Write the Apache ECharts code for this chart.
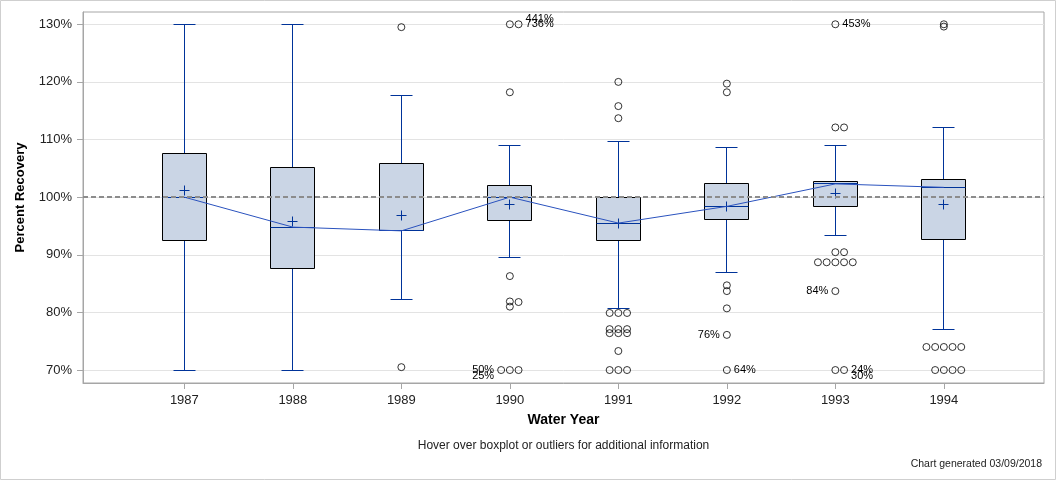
<!DOCTYPE html>
<html>
<head>
<meta charset="utf-8">
<script src="https://cdn.jsdelivr.net/npm/echarts@6/dist/echarts.min.js"></script>
<style>
html,body{margin:0;padding:0;background:#fff;}
#chart{width:1056px;height:480px;}
</style>
</head>
<body>
<div id="chart"></div>
<script>
// ---- data ----
const years       = [1987, 1988, 1989, 1990, 1991, 1992, 1993, 1994];
const whiskerLow  = [70.0, 70.0, 82.3, 89.6, 80.7, 87.0, 93.4, 77.0];
const q1          = [92.4, 87.55, 94.15, 95.9, 92.4, 96.2, 98.4, 92.6];
const median      = [100.0, 94.8, 94.15, 100.0, 95.5, 98.4, 102.3, 101.7];
const q3          = [107.6, 105.2, 105.9, 102.1, 100.0, 102.4, 102.7, 103.1];
const whiskerHigh = [130.0, 130.0, 117.7, 109.0, 109.7, 108.7, 109.0, 112.1];
const mean        = [101.1, 95.7, 96.8, 98.8, 95.4, 98.4, 100.7, 98.8];
const outliers = [
  [],
  [],
  [129.5, 70.5],
  [130, 130, 118.2, 86.3, 81.9, 81.8, 81.0, 70, 70, 70],
  [120.0, 115.8, 113.7, 79.9, 79.9, 79.9, 77.1, 77.1, 77.1, 76.4, 76.4, 76.4, 73.3, 70, 70, 70],
  [119.7, 118.2, 84.7, 83.7, 80.7, 76.1, 70],
  [130, 112.1, 112.1, 90.45, 90.45, 88.7, 88.7, 88.7, 88.7, 88.7, 83.7, 70, 70],
  [130.0, 129.6, 74, 74, 74, 74, 74, 70, 70, 70, 70]
];
const labelYears  = [1990, 1990, 1990, 1990, 1992, 1992, 1993, 1993, 1993, 1993];
const labelValues = [131.0, 130.0, 70.0, 68.95, 76.1, 70.0, 130.0, 83.7, 70.0, 68.95];
const labelTexts  = ['441%', '736%', '50%', '25%', '76%', '64%', '453%', '84%', '24%', '30%'];
const labelSides  = ['right', 'right', 'left', 'left', 'left', 'right', 'right', 'left', 'right', 'right'];
const yTicks = [70, 80, 90, 100, 110, 120, 130];
const refValue = 100;

// ---- layout constants ----
const FONT = "'Liberation Sans', Arial, sans-serif";
const BOX_W = 0.405, CAP_W = 0.203, SLOT = 0.0802;
const BLUE = '#003399';

function jitter(vals) {
  const groups = [];
  return vals.map(v => {
    let g = groups.find(g => Math.abs(g.v - v) <= 0.25);
    if (!g) { g = {v: v, n: 0}; groups.push(g); }
    const n = g.n++;
    return n === 0 ? 0 : (n % 2 === 1 ? (n + 1) / 2 : -n / 2);
  });
}
const outlierPts = [];
const outlierOffs = years.map(() => []);
years.forEach((y, i) => {
  const offs = jitter(outliers[i]);
  outliers[i].forEach((v, k) => {
    outlierPts.push([y + offs[k] * SLOT, v]);
    outlierOffs[i].push([v, offs[k]]);
  });
});

const boxData = years.map((y, i) => [y, whiskerLow[i], q1[i], median[i], q3[i], whiskerHigh[i], mean[i]]);
const labelData = labelYears.map((y, i) => [y, labelValues[i], i]);

const chart = echarts.init(document.getElementById('chart'), null, {renderer: 'canvas'});
const crisp = v => Math.round(v - 0.5) + 0.5;
const ln = (x1, y1, x2, y2, c) => ({type: 'line', shape: {x1, y1, x2, y2}, style: {stroke: c, lineWidth: 1}});

chart.setOption({
  animation: false,
  textStyle: {fontFamily: FONT},
  grid: {left: 83, top: 12, right: 12, bottom: 97, show: true, borderColor: '#a6a6a6', borderWidth: 1, backgroundColor: 'transparent'},
  xAxis: {
    type: 'value', min: 1986.066, max: 1994.923,
    axisLine: {show: true, lineStyle: {color: '#a6a6a6'}},
    axisTick: {show: true, length: 6, customValues: years, lineStyle: {color: '#a6a6a6'}},
    axisLabel: {customValues: years, formatter: v => String(v), color: '#222', fontSize: 13, margin: 11, fontFamily: FONT},
    splitLine: {show: false},
    name: 'Water Year', nameLocation: 'middle', nameGap: 30,
    nameTextStyle: {fontWeight: 'bold', fontSize: 14, color: '#000', fontFamily: FONT}
  },
  yAxis: {
    type: 'value', min: 67.75, max: 132.13,
    axisLine: {show: true, lineStyle: {color: '#a6a6a6'}},
    axisTick: {show: true, length: 6, customValues: yTicks, lineStyle: {color: '#a6a6a6'}},
    axisLabel: {customValues: yTicks, formatter: v => v + '%', color: '#222', fontSize: 13, margin: 11, fontFamily: FONT},
    splitLine: {show: true, lineStyle: {color: '#e3e3e3', width: 1}},
    name: 'Percent Recovery', nameLocation: 'middle', nameGap: 56, nameRotate: 90,
    nameTextStyle: {fontWeight: 'bold', fontSize: 13, color: '#000', fontFamily: FONT}
  },
  series: [
    {
      type: 'line', data: [], z: 1, silent: true,
      markLine: {
        silent: true, symbol: ['none', 'none'], label: {show: false},
        lineStyle: {color: '#8c8c8c', width: 2, type: [5, 3]},
        data: [{yAxis: refValue}]
      }
    },
    {
      type: 'custom', z: 2, data: boxData, silent: true,
      encode: {x: 0, y: [1, 2, 3, 4, 5]},
      renderItem: function (params, api) {
        const x = api.value(0);
        const cy = v => crisp(api.coord([x, v])[1]);
        const lo = cy(api.value(1)), p1 = cy(api.value(2)), md = cy(api.value(3)),
              p3 = cy(api.value(4)), hi = cy(api.value(5)), mn = cy(api.value(6));
        const bw = Math.round(api.size([BOX_W, 0])[0] / 2), cw = Math.round(api.size([CAP_W, 0])[0] / 2);
        const cx = crisp(api.coord([x, 100])[0]);
        return {type: 'group', children: [
          ln(cx, p3, cx, hi, BLUE), ln(cx - cw, hi, cx + cw, hi, BLUE),
          ln(cx, p1, cx, lo, BLUE), ln(cx - cw, lo, cx + cw, lo, BLUE),
          {type: 'rect', shape: {x: cx - bw, y: p3, width: 2 * bw, height: p1 - p3},
           style: {fill: '#cad5e5', stroke: '#000', lineWidth: 1}},
          ln(cx - bw, md, cx + bw, md, BLUE),
          ln(cx - 5, mn, cx + 5, mn, BLUE), ln(cx, mn - 5, cx, mn + 5, BLUE)
        ]};
      }
    },
    {
      type: 'line', z: 3, silent: true, symbol: 'none',
      data: years.map((y, i) => [y, median[i]]),
      lineStyle: {color: '#2a52be', width: 1}
    },
    {
      type: 'scatter', z: 4, silent: true, symbol: 'circle', symbolSize: 7,
      data: outlierPts,
      itemStyle: {color: 'rgba(255,255,255,0)', borderColor: '#000', borderWidth: 1}
    },
    {
      type: 'custom', z: 5, silent: true, data: labelData,
      encode: {x: 0, y: 1},
      renderItem: function (params, api) {
        const y = api.value(0), v = api.value(1), idx = api.value(2);
        const yi = years.indexOf(y);
        const near = outlierOffs[yi].filter(p => Math.abs(p[0] - v) <= 1.2).map(p => p[1]);
        const side = labelSides[idx];
        const off = side === 'right' ? Math.max(...near) : Math.min(...near);
        const p = api.coord([y + off * SLOT, v]);
        return {type: 'text', x: side === 'right' ? p[0] + 7 : p[0] - 7, y: p[1],
          style: {text: labelTexts[idx], align: side === 'right' ? 'left' : 'right', verticalAlign: 'middle',
                  font: '11px ' + FONT, fill: '#000'}};
      }
    }
  ],
  graphic: [
    {type: 'rect', silent: true, shape: {x: 0.5, y: 0.5, width: 1055, height: 479},
     style: {fill: 'none', stroke: '#cfcfcf', lineWidth: 1}},
    {type: 'text', silent: true, x: 563.5, y: 446,
     style: {text: 'Hover over boxplot or outliers for additional information', align: 'center', verticalAlign: 'middle',
             font: '12px ' + FONT, fill: '#222'}},
    {type: 'text', silent: true, x: 1042, y: 464,
     style: {text: 'Chart generated 03/09/2018', align: 'right', verticalAlign: 'middle',
             font: '10.5px ' + FONT, fill: '#222'}}
  ]
});
</script>
</body>
</html>
